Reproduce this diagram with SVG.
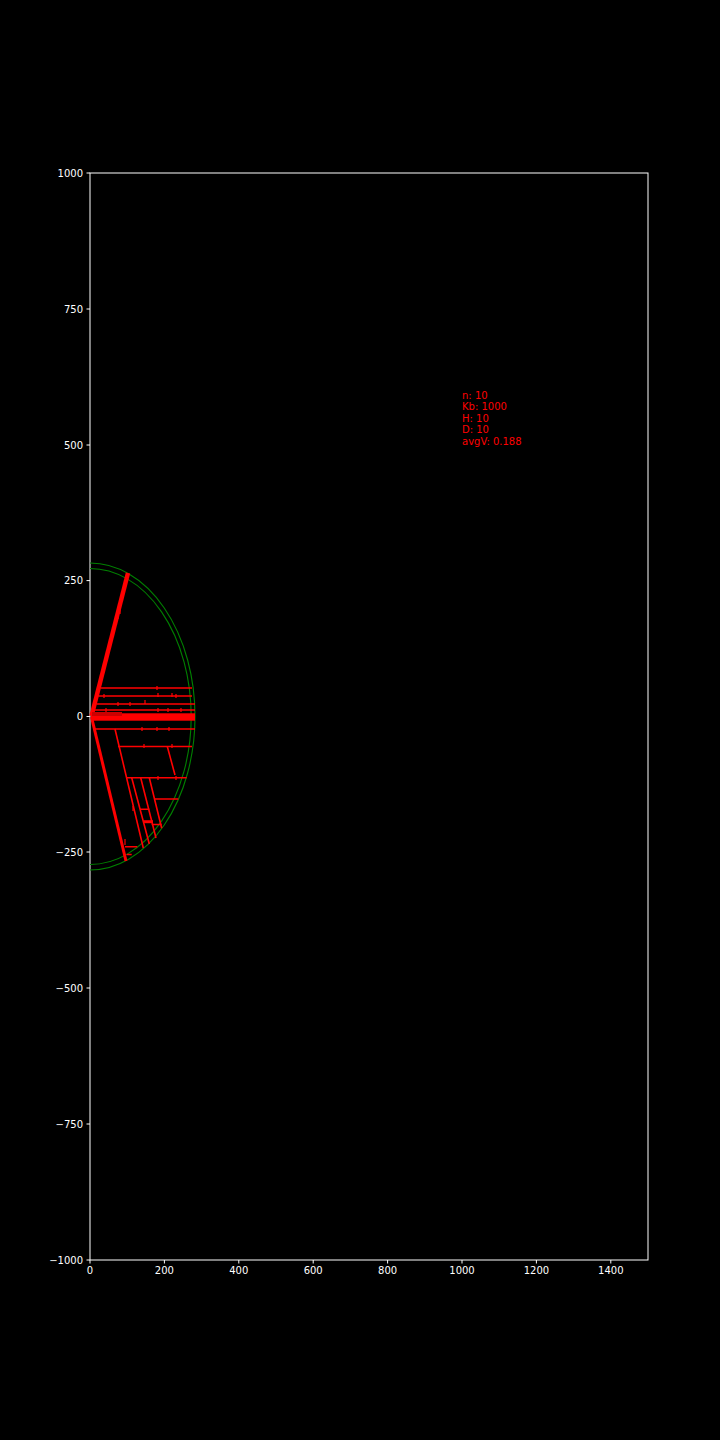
<svg xmlns="http://www.w3.org/2000/svg" width="720" height="1440" viewBox="0 0 720 1440">
<style>
.ax{stroke:#fff;stroke-width:1;fill:none}
.tl{font-family:"DejaVu Sans",sans-serif;font-size:10px;fill:#fff}
.lab{font-family:"DejaVu Sans",sans-serif;font-size:10px;fill:#f00}
.g{stroke:#008000;stroke-width:1.1;fill:none}
.r{stroke:#f00;stroke-width:1.6;fill:none}
.rt{stroke:#f00;stroke-width:1.2;fill:none}
</style>
<rect width="720" height="1440" fill="#000"/>
<g id="axes">
<rect class="ax" x="90" y="173" width="558" height="1087"/>
<g class="ax">
<path d="M86.5 173H90M86.5 309H90M86.5 445H90M86.5 580.6H90M86.5 716.5H90M86.5 852H90M86.5 988H90M86.5 1124H90M86.5 1260H90"/>
<path d="M90 1260V1263.5M164.4 1260V1263.5M238.8 1260V1263.5M313.2 1260V1263.5M387.6 1260V1263.5M462 1260V1263.5M536.4 1260V1263.5M610.8 1260V1263.5"/>
</g>
<g class="tl" text-anchor="end">
<text x="83" y="176.5">1000</text>
<text x="83" y="312.5">750</text>
<text x="83" y="448.5">500</text>
<text x="83" y="584">250</text>
<text x="83" y="720">0</text>
<text x="83" y="855.5">−250</text>
<text x="83" y="991.5">−500</text>
<text x="83" y="1127.5">−750</text>
<text x="83" y="1263.5">−1000</text>
</g>
<g class="tl" text-anchor="middle">
<text x="90" y="1274">0</text>
<text x="164.4" y="1274">200</text>
<text x="238.8" y="1274">400</text>
<text x="313.2" y="1274">600</text>
<text x="387.6" y="1274">800</text>
<text x="462" y="1274">1000</text>
<text x="536.4" y="1274">1200</text>
<text x="610.8" y="1274">1400</text>
</g>
</g>
<g id="circles">
<path class="g" d="M90 563A105 153.5 0 0 1 90 870"/>
<path class="g" d="M90 568.5A101.2 148 0 0 1 90 864.5"/>
</g>
<g id="legend" class="lab">
<text x="462" y="398.5">n: 10</text>
<text x="462" y="410">Kb: 1000</text>
<text x="462" y="421.5">H: 10</text>
<text x="462" y="433">D: 10</text>
<text x="462" y="444.5">avgV: 0.188</text>
</g>
<g id="tree">
<path d="M91.5 716L128 573" stroke="#f00" stroke-width="4.5" fill="none"/>
<path d="M91.5 717L126 861" stroke="#f00" stroke-width="3" fill="none"/>
<rect x="91" y="713.3" width="104" height="7.4" fill="#f00"/>
<rect x="92" y="712" width="30" height="4" fill="#c00"/>
<g class="r">
<path d="M100.5 688H192M98.5 696H192M96.5 704H195M95 710H195"/>
<path d="M93 729H195M118 746.5H192M126.7 777.7H186.7"/>
<path d="M115 729L143.3 848M131.7 777.7L149.3 844M140.7 777.7L156 838M149.3 777.7L161.7 828.3M167.3 746.5L175 775"/>
<path d="M155 799H178.3M140 809.3H149.3M151.7 824.5H161.7M125 846.7H137.3M126.7 854.5H131.7"/>
</g>
<path d="M143.3 821.7H153" stroke="#f00" stroke-width="3"/>
<g class="rt">
<path d="M118 613v6M120 610v4M157 686v4M172 693v4M176 694v4M158 693v4M104 694v4M118 702v4M130 702v4M145 700v4M106 708v4M158 708v4M168 708v4M181 708v4M142 727v4M157 727v4M169 727v4M144 744v4M172 744v4M158 776v4M176 776v4M133 806v5M125 839v6"/>
</g>
</g>
</svg>
